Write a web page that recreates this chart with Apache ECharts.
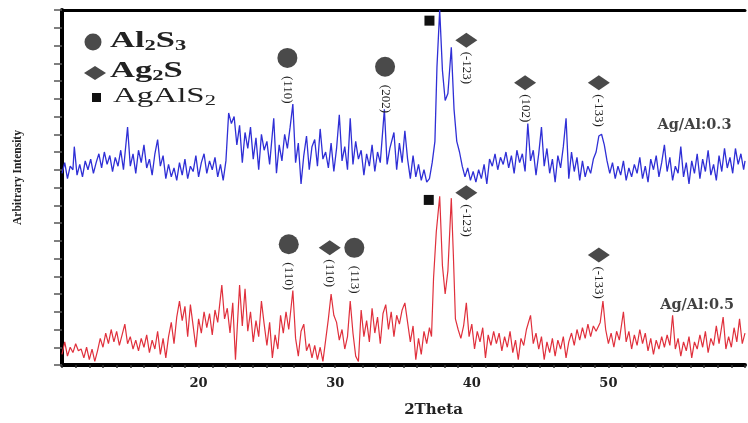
<!DOCTYPE html>
<html>
<head>
<meta charset="utf-8">
<script src="https://cdn.jsdelivr.net/npm/echarts@6/dist/echarts.min.js"></script>
<style>
  html, body { margin: 0; padding: 0; background: #fff; }
  #main { width: 748px; height: 423px; }
</style>
</head>
<body>
<div id="main"></div>
<script>
// 2theta, intensity (offset trace)
const blueTrace = [
  [10.0,10.8],[10.2,11.4],[10.4,10.5],[10.6,11.2],[10.8,11.0],[10.9,12.3],[11.1,10.7],[11.3,11.3],[11.5,10.6],[11.7,11.5],
  [11.9,11.0],[12.1,11.6],[12.3,10.8],[12.5,11.4],[12.7,11.9],[12.9,11.1],[13.1,12.0],[13.3,11.3],[13.5,11.8],[13.7,10.9],
  [13.9,11.7],[14.1,11.2],[14.3,12.1],[14.5,11.0],[14.8,13.4],[15.0,11.2],[15.2,11.9],[15.4,10.8],[15.6,12.1],[15.8,11.4],
  [16.0,12.4],[16.2,11.1],[16.4,11.6],[16.6,10.7],[16.8,11.9],[17.0,12.7],[17.2,11.2],[17.4,11.8],[17.6,10.5],[17.8,11.3],
  [18.0,10.6],[18.2,11.1],[18.4,10.4],[18.6,11.4],[18.8,10.7],[19.0,11.6],[19.2,10.5],[19.4,11.2],[19.6,10.9],[19.8,11.8],
  [20.0,10.6],[20.2,11.4],[20.4,11.9],[20.6,10.8],[20.8,11.5],[21.0,11.0],[21.2,11.7],[21.4,10.6],[21.6,11.3],[21.8,10.4],
  [22.0,11.5],[22.2,14.2],[22.4,13.6],[22.6,14.0],[22.8,12.4],[23.0,13.5],[23.2,11.4],[23.4,13.1],[23.6,12.2],[23.8,13.4],
  [24.0,11.6],[24.2,12.8],[24.4,11.0],[24.6,13.0],[24.8,12.1],[25.0,12.6],[25.2,11.3],[25.5,13.9],[25.7,10.8],[25.9,12.4],
  [26.1,11.5],[26.3,13.0],[26.5,12.2],[26.7,13.4],[26.9,14.7],[27.1,11.4],[27.3,12.5],[27.5,10.2],[27.7,11.8],[27.9,12.9],
  [28.1,11.0],[28.3,12.3],[28.5,12.7],[28.7,11.2],[28.9,13.3],[29.1,11.6],[29.3,12.0],[29.5,11.1],[29.7,12.5],[29.9,10.9],
  [30.1,12.2],[30.3,14.1],[30.5,11.5],[30.7,12.3],[30.9,11.0],[31.1,13.9],[31.3,11.3],[31.5,12.6],[31.7,11.6],[31.9,12.1],
  [32.1,10.7],[32.3,11.9],[32.5,11.2],[32.7,12.4],[32.9,10.9],[33.1,12.0],[33.3,11.4],[33.6,14.4],[33.8,11.3],[34.0,12.2],
  [34.3,13.1],[34.5,11.0],[34.7,12.5],[34.9,11.4],[35.1,13.2],[35.3,11.6],[35.5,10.5],[35.7,11.8],[35.9,10.6],[36.1,11.3],
  [36.3,10.4],[36.5,11.0],[36.7,10.3],[36.9,10.5],[37.1,11.4],[37.3,12.6],[37.45,16.8],[37.65,20.0],[37.85,16.6],[38.05,14.9],
  [38.25,15.3],[38.5,17.9],[38.7,14.4],[38.9,12.6],[39.1,12.0],[39.3,11.2],[39.5,10.6],[39.7,11.1],[39.9,10.4],[40.1,10.9],
  [40.3,10.3],[40.5,11.0],[40.7,10.5],[40.9,11.3],[41.1,10.2],[41.3,11.6],[41.5,11.2],[41.7,11.9],[41.9,11.0],[42.1,11.7],
  [42.3,11.3],[42.5,12.0],[42.7,11.1],[42.9,11.8],[43.1,10.8],[43.3,12.1],[43.5,11.4],[43.7,11.9],[43.9,10.9],[44.1,13.6],
  [44.3,11.5],[44.5,12.1],[44.7,10.7],[44.9,11.9],[45.1,13.4],[45.3,11.2],[45.5,12.2],[45.7,10.8],[45.9,11.6],[46.1,10.3],
  [46.3,11.8],[46.5,11.1],[46.7,12.3],[46.9,13.9],[47.1,10.5],[47.3,12.0],[47.5,10.9],[47.7,11.7],[47.9,10.4],[48.1,11.5],
  [48.3,10.6],[48.5,11.2],[48.7,10.8],[48.9,11.6],[49.1,12.0],[49.3,12.9],[49.5,13.0],[49.7,12.4],[49.9,11.5],[50.1,10.8],
  [50.3,11.4],[50.5,10.5],[50.7,11.2],[50.9,10.7],[51.1,11.5],[51.3,10.4],[51.5,11.1],[51.7,10.6],[51.9,11.3],[52.1,10.8],
  [52.3,11.7],[52.5,10.5],[52.7,11.2],[52.9,10.3],[53.1,11.6],[53.3,11.0],[53.5,11.8],[53.7,10.6],[53.9,11.4],[54.1,12.4],
  [54.3,10.9],[54.5,11.7],[54.7,10.4],[54.9,11.2],[55.1,10.8],[55.3,12.3],[55.5,10.6],[55.7,11.4],[55.9,10.2],[56.1,11.5],
  [56.3,10.8],[56.5,11.9],[56.7,10.5],[56.9,11.6],[57.1,10.9],[57.3,12.1],[57.5,10.7],[57.7,11.3],[57.9,10.4],[58.1,11.8],
  [58.3,10.9],[58.5,12.2],[58.7,11.1],[58.9,11.7],[59.1,10.8],[59.3,12.2],[59.5,11.3],[59.7,11.9],[59.9,11.0],[60.0,11.5]
];

const redTrace = [
  [10.0,0.6],[10.2,1.3],[10.4,0.5],[10.6,1.0],[10.8,0.7],[11.0,1.2],[11.2,0.8],[11.4,0.9],[11.6,0.4],[11.8,1.0],
  [12.0,0.3],[12.2,0.9],[12.4,0.2],[12.6,0.8],[12.8,1.5],[13.0,1.0],[13.2,1.8],[13.4,1.2],[13.6,2.0],[13.8,1.3],
  [14.0,1.9],[14.2,1.1],[14.4,1.7],[14.6,2.3],[14.8,1.2],[15.0,1.6],[15.2,0.9],[15.4,1.4],[15.6,0.8],[15.8,1.5],
  [16.0,1.0],[16.2,1.7],[16.4,0.7],[16.6,1.4],[16.8,0.9],[17.0,1.9],[17.2,0.6],[17.4,1.5],[17.6,0.4],[17.8,1.6],
  [18.0,2.4],[18.2,1.2],[18.4,2.7],[18.6,3.6],[18.8,2.5],[19.0,3.3],[19.2,1.6],[19.4,3.4],[19.6,2.2],[19.8,1.0],
  [20.0,2.6],[20.2,1.8],[20.4,3.0],[20.6,2.1],[20.8,2.9],[21.0,1.7],[21.2,3.1],[21.4,2.4],[21.7,4.5],[21.9,2.6],
  [22.1,3.2],[22.3,1.8],[22.5,3.5],[22.7,0.3],[23.0,4.5],[23.2,2.2],[23.4,4.3],[23.6,1.9],[23.8,3.0],[24.0,1.3],
  [24.2,2.5],[24.4,1.6],[24.6,3.6],[24.8,2.3],[25.0,1.1],[25.2,2.4],[25.4,0.4],[25.6,1.7],[25.8,0.9],[26.0,2.8],
  [26.2,1.8],[26.4,3.0],[26.6,2.0],[26.9,4.2],[27.1,1.5],[27.3,0.5],[27.5,1.9],[27.7,2.3],[27.9,0.8],[28.1,1.2],
  [28.3,0.4],[28.5,1.1],[28.7,0.3],[28.9,1.0],[29.1,0.2],[29.3,1.4],[29.5,2.6],[29.7,4.0],[29.9,2.8],[30.1,2.4],
  [30.3,1.4],[30.5,2.0],[30.7,0.9],[30.9,1.6],[31.1,3.6],[31.3,1.8],[31.5,0.5],[31.7,0.2],[31.9,3.1],[32.1,1.6],
  [32.3,2.5],[32.5,1.3],[32.7,3.2],[32.9,1.8],[33.1,2.7],[33.3,1.2],[33.5,2.9],[33.7,3.4],[33.9,2.0],[34.1,3.0],
  [34.3,1.6],[34.5,2.8],[34.7,2.3],[34.9,3.1],[35.1,3.5],[35.3,2.4],[35.5,1.3],[35.7,2.2],[35.9,0.3],[36.1,1.5],
  [36.3,0.6],[36.5,1.9],[36.7,1.2],[36.9,2.1],[37.05,1.6],[37.2,4.9],[37.4,7.5],[37.65,9.5],[37.85,5.6],[38.05,4.0],
  [38.25,5.3],[38.5,9.4],[38.65,6.2],[38.8,2.6],[39.0,2.0],[39.2,1.5],[39.4,2.2],[39.6,3.5],[39.8,1.6],[40.0,2.3],
  [40.2,0.9],[40.4,1.9],[40.6,1.3],[40.8,2.1],[41.0,0.4],[41.2,1.7],[41.4,1.1],[41.6,1.9],[41.8,1.2],[42.0,1.8],
  [42.2,0.8],[42.4,1.6],[42.6,1.0],[42.8,1.9],[43.0,0.7],[43.2,1.4],[43.4,0.3],[43.6,1.5],[43.8,1.1],[44.0,2.0],
  [44.3,2.8],[44.5,1.2],[44.7,1.8],[44.9,0.9],[45.1,1.6],[45.3,0.3],[45.5,1.3],[45.7,0.7],[45.9,1.5],[46.1,0.5],
  [46.3,1.4],[46.5,0.9],[46.7,1.6],[46.9,0.4],[47.1,1.3],[47.3,1.8],[47.5,1.1],[47.7,2.0],[47.9,1.4],[48.1,2.1],
  [48.3,1.5],[48.5,2.3],[48.7,1.6],[48.9,2.2],[49.1,1.9],[49.4,2.4],[49.6,3.6],[49.8,2.0],[50.0,1.2],[50.2,1.8],
  [50.4,1.0],[50.6,1.9],[50.8,1.4],[51.1,3.0],[51.3,1.3],[51.5,1.9],[51.7,0.9],[51.9,1.7],[52.1,1.1],[52.3,2.0],
  [52.5,1.2],[52.7,1.8],[52.9,0.8],[53.1,1.5],[53.3,0.6],[53.5,1.4],[53.7,0.9],[53.9,1.6],[54.1,1.0],[54.3,1.7],
  [54.5,1.1],[54.7,2.8],[54.9,0.9],[55.1,1.5],[55.3,0.5],[55.5,1.3],[55.7,0.8],[55.9,1.6],[56.1,0.4],[56.3,1.3],
  [56.5,0.9],[56.7,1.7],[56.9,1.0],[57.1,1.9],[57.3,0.7],[57.5,1.5],[57.7,1.1],[57.9,2.2],[58.1,1.2],[58.4,2.7],
  [58.6,0.9],[58.8,1.6],[59.0,1.0],[59.2,2.1],[59.4,1.3],[59.6,2.6],[59.8,1.2],[60.0,1.8]
];

// phase markers: [2theta, height, hkl]
const al2s3Marks = [[26.5,17.3,'(110)'],[33.65,16.8,'(202)'],[26.6,6.8,'(110)'],[31.4,6.6,'(113)']];
const ag2sMarks = [[39.6,18.3,'(-123)'],[43.9,15.9,'(102)'],[49.3,15.9,'(-133)'],[29.6,6.6,'(110)'],[39.6,9.7,'(-123)'],[49.3,6.2,'(-133)']];
const agals2Marks = [[36.9,19.4,''],[36.85,9.3,'']];
const sampleTags = [[56.3,13.5,'Ag/Al:0.3'],[56.5,3.35,'Ag/Al:0.5']];

const xTicks = [20, 30, 40, 50];
const serif = '"Liberation Serif", "DejaVu Serif", serif';
const wideSerif = '"DejaVu Serif", serif';
const markGray = '#4a4a4a';

var chartDom = document.getElementById('main');
var myChart = echarts.init(chartDom);

function hklLabel(dist) {
  return {
    show: true,
    position: 'bottom',
    distance: dist,
    rotate: -90,
    align: 'left',
    verticalAlign: 'middle',
    formatter: (p) => p.data[2],
    fontFamily: serif,
    fontSize: 13,
    color: '#222'
  };
}

// phase key in the upper left corner (text stretched like the source figure)
const subStyle = { fontFamily: serif, fontSize: 15, fontWeight: 'bold', fill: '#222', padding: [10, 0, 0, 0] };
const keyText = (x, y, text, weight, size) => ({
  type: 'text',
  x: x,
  y: y,
  scaleX: 1.5,
  style: {
    text: text,
    fontFamily: serif,
    fontSize: size,
    fontWeight: weight,
    fill: '#222',
    verticalAlign: 'middle',
    rich: { s: Object.assign({}, subStyle, { fontWeight: weight }) }
  }
});

var option = {
  animation: false,
  backgroundColor: '#fff',
  grid: { left: 62, right: 0, top: 10, bottom: 55 },
  graphic: [
    { type: 'circle', shape: { cx: 93, cy: 42, r: 8.5 }, style: { fill: markGray } },
    keyText(110, 41, 'Al{s|2}S{s|3}', 'bold', 23),
    { type: 'polygon', shape: { points: [[84, 73], [95, 66], [106, 73], [95, 80]] }, style: { fill: markGray } },
    keyText(110, 71, 'Ag{s|2}S', 'bold', 23),
    { type: 'rect', shape: { x: 92, y: 93, width: 9, height: 9 }, style: { fill: '#111' } },
    keyText(113, 96, 'AgAlS{s|2}', 'normal', 22)
  ],
  xAxis: [
    {
      type: 'value',
      min: 10,
      max: 60,
      interval: 1,
      name: '2Theta',
      nameLocation: 'middle',
      nameGap: 38,
      nameTextStyle: { fontFamily: wideSerif, fontSize: 15, fontWeight: 'bold', color: '#222', padding: [0, 0, 0, 60] },
      axisLine: { lineStyle: { color: '#000', width: 4 } },
      axisTick: { length: 3, lineStyle: { color: '#333', width: 1.5 } },
      axisLabel: {
        margin: 12,
        fontFamily: wideSerif,
        fontSize: 13,
        fontWeight: 'bold',
        color: '#222',
        formatter: (v) => (xTicks.indexOf(v) >= 0 ? String(v) : '')
      },
      splitLine: { show: false }
    },
    {
      type: 'value',
      position: 'top',
      min: 10,
      max: 60,
      axisLine: { show: true, lineStyle: { color: '#000', width: 3 } },
      axisTick: { show: false },
      axisLabel: { show: false },
      splitLine: { show: false }
    }
  ],
  yAxis: {
    type: 'value',
    min: 0,
    max: 20,
    interval: 1,
    name: 'Arbitrary Intensity',
    nameLocation: 'middle',
    nameGap: 38,
    nameTextStyle: { fontFamily: serif, fontSize: 11.5, fontWeight: 'bold', color: '#222', padding: [0, 0, 0, 20] },
    axisLine: { show: true, lineStyle: { color: '#000', width: 4 } },
    axisTick: { show: true, length: 8, lineStyle: { color: '#555', width: 1.5 } },
    axisLabel: { show: false },
    splitLine: { show: false }
  },
  series: [
    {
      name: 'Ag/Al:0.3',
      type: 'line',
      data: blueTrace,
      showSymbol: false,
      lineStyle: { color: '#2f2fd6', width: 1.3 },
      z: 2
    },
    {
      name: 'Ag/Al:0.5',
      type: 'line',
      data: redTrace,
      showSymbol: false,
      lineStyle: { color: '#e0303c', width: 1.2 },
      z: 2
    },
    {
      name: 'Al2S3',
      type: 'scatter',
      data: al2s3Marks,
      symbol: 'circle',
      symbolSize: 20,
      itemStyle: { color: markGray, opacity: 1 },
      label: hklLabel(8),
      z: 3
    },
    {
      name: 'Ag2S',
      type: 'scatter',
      data: ag2sMarks,
      symbol: 'diamond',
      symbolSize: [22, 15],
      itemStyle: { color: markGray, opacity: 1 },
      label: hklLabel(4),
      z: 3
    },
    {
      name: 'AgAlS2',
      type: 'scatter',
      data: agals2Marks,
      symbol: 'rect',
      symbolSize: 10,
      itemStyle: { color: '#111', opacity: 1 },
      z: 3
    },
    {
      name: 'tags',
      type: 'scatter',
      data: sampleTags,
      symbolSize: 0,
      label: {
        show: true,
        position: 'inside',
        formatter: (p) => p.data[2],
        fontFamily: wideSerif,
        fontSize: 14.5,
        fontWeight: 'bold',
        color: '#111'
      },
      z: 4
    }
  ]
};

option && myChart.setOption(option);
</script>
</body>
</html>
